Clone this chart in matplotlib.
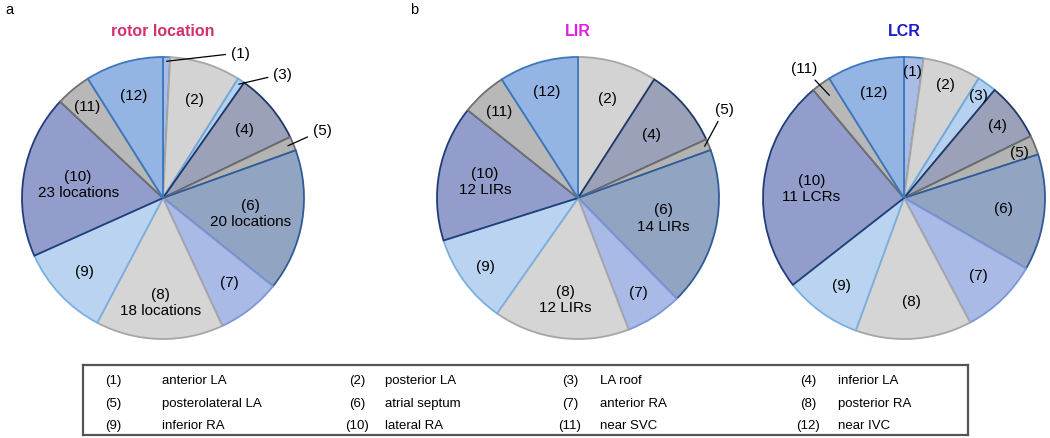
import matplotlib.pyplot as plt
import numpy as np

plt.rcParams['font.family'] = ['Liberation Sans', 'DejaVu Sans']

# region codes and names (legend table)
regions = ['(1)', '(2)', '(3)', '(4)', '(5)', '(6)',
           '(7)', '(8)', '(9)', '(10)', '(11)', '(12)']
region_names = ['anterior LA', 'posterior LA', 'LA roof', 'inferior LA',
                'posterolateral LA', 'atrial septum', 'anterior RA', 'posterior RA',
                'inferior RA', 'lateral RA', 'near SVC', 'near IVC']

# counts per region
rotor_counts = [1, 10, 1, 10, 2, 20, 9, 18, 13, 23, 5, 11]
lir_counts = [0, 7, 0, 7, 1, 14, 5, 12, 8, 12, 4, 7]
lcr_counts = [1, 3, 1, 3, 1, 6, 4, 6, 4, 11, 1, 4]

titles = ['rotor location', 'LIR', 'LCR']
units = ['locations', 'LIRs', 'LCRs']
# regions whose count is written inside the wedge
with_count = [[5, 7, 9], [5, 7, 9], [9]]

face = ['#a8bce6', '#d3d3d3', '#b6d1f0', '#9ca1ba', '#b3b3b3', '#91a5c3',
        '#aabae6', '#d5d5d5', '#bad3f0', '#939dcb', '#b8b8b8', '#94b4e3']
edge = ['#4f81bd', '#a6a6a6', '#6fa8dc', '#1f3864', '#6e6e6e', '#2e5c9a',
        '#7f96d6', '#a6a6a6', '#7ab0e0', '#203e7a', '#707070', '#3b78c0']
title_colors = ['#d4306c', '#e020e0', '#1a1acc']

W, H = 1050, 439
fig = plt.figure(figsize=(W / 100, H / 100), dpi=100)


def pie_axes(cx, cy, r, span=1.4):
    ax = fig.add_axes([(cx - span * r) / W, 1 - (cy + span * r) / H,
                       2 * span * r / W, 2 * span * r / H])
    return ax, span


def draw_pie(ax, span, counts, k, label_r, callouts):
    idx = [i for i, c in enumerate(counts) if c > 0]
    wedges, _ = ax.pie([counts[i] for i in idx], colors=[face[i] for i in idx],
                       startangle=90, counterclock=False, radius=1,
                       wedgeprops=dict(linewidth=1.3))
    ax.set_xlim(-span, span)
    ax.set_ylim(-span, span)
    ax.axis('off')
    for w, i in zip(wedges, idx):
        w.set_edgecolor(edge[i])
        mid = np.deg2rad((w.theta1 + w.theta2) / 2)
        txt = regions[i]
        if i in with_count[k]:
            txt = regions[i] + '\n' + str(counts[i]) + ' ' + units[k]
        if i in callouts:
            tx, ty, er = callouts[i]
            ax.annotate(txt, xy=(er * np.cos(mid), er * np.sin(mid)), xytext=(tx, ty),
                        ha='center', va='center', fontsize=11,
                        arrowprops=dict(arrowstyle='-', color='black', lw=0.9,
                                        shrinkA=2, shrinkB=0))
        else:
            lr = label_r.get(i, 0.76)
            ax.text(lr * np.cos(mid), lr * np.sin(mid), txt, ha='center', va='center',
                    fontsize=11, linespacing=1.2)
    ax.text(0, 1.19, titles[k], ha='center', va='center', fontsize=11.5,
            fontweight='bold', color=title_colors[k])


ax1, s1 = pie_axes(163, 199, 141)
draw_pie(ax1, s1, rotor_counts, 0,
         {1: 0.74, 5: 0.63, 7: 0.74, 9: 0.61, 10: 0.85},
         {0: (0.55, 1.03, 0.97), 2: (0.85, 0.88, 0.97), 4: (1.13, 0.48, 0.96)})

ax2, s2 = pie_axes(578, 199, 141)
draw_pie(ax2, s2, lir_counts, 1,
         {1: 0.74, 3: 0.69, 5: 0.62, 6: 0.79, 7: 0.72, 8: 0.81, 9: 0.67, 10: 0.83, 11: 0.79},
         {4: (1.04, 0.63, 0.97)})

ax3, s3 = pie_axes(904, 199, 141)
draw_pie(ax3, s3, lcr_counts, 2,
         {0: 0.9, 1: 0.86, 2: 0.9, 3: 0.84, 4: 0.88, 5: 0.71, 6: 0.76, 7: 0.73,
          8: 0.76, 9: 0.66, 11: 0.78},
         {10: (-0.71, 0.92, 0.9)})

fig.text(5 / W, 1 - 10 / H, 'a', fontsize=10.5, va='center')
fig.text(410 / W, 1 - 10 / H, 'b', fontsize=10.5, va='center')

# legend table
lx0, lx1, ly0, ly1 = 83, 968, 366, 436
lg = fig.add_axes([lx0 / W, 1 - ly1 / H, (lx1 - lx0) / W, (ly1 - ly0) / H])
lg.set_xlim(lx0, lx1)
lg.set_ylim(ly1, ly0)
lg.set_xticks([])
lg.set_yticks([])
for sp in lg.spines.values():
    sp.set_linewidth(1.6)
    sp.set_color('#555555')
num_x = [113, 357, 570, 808]
name_x = [162, 385, 600, 838]
row_y = [381, 404, 426]
for n, (code, name) in enumerate(zip(regions, region_names)):
    r, c = divmod(n, 4)
    lg.text(num_x[c], row_y[r], code, ha='center', va='center', fontsize=9.5)
    lg.text(name_x[c], row_y[r], name, ha='left', va='center', fontsize=9.5)

fig.savefig('out.png', dpi=100)
